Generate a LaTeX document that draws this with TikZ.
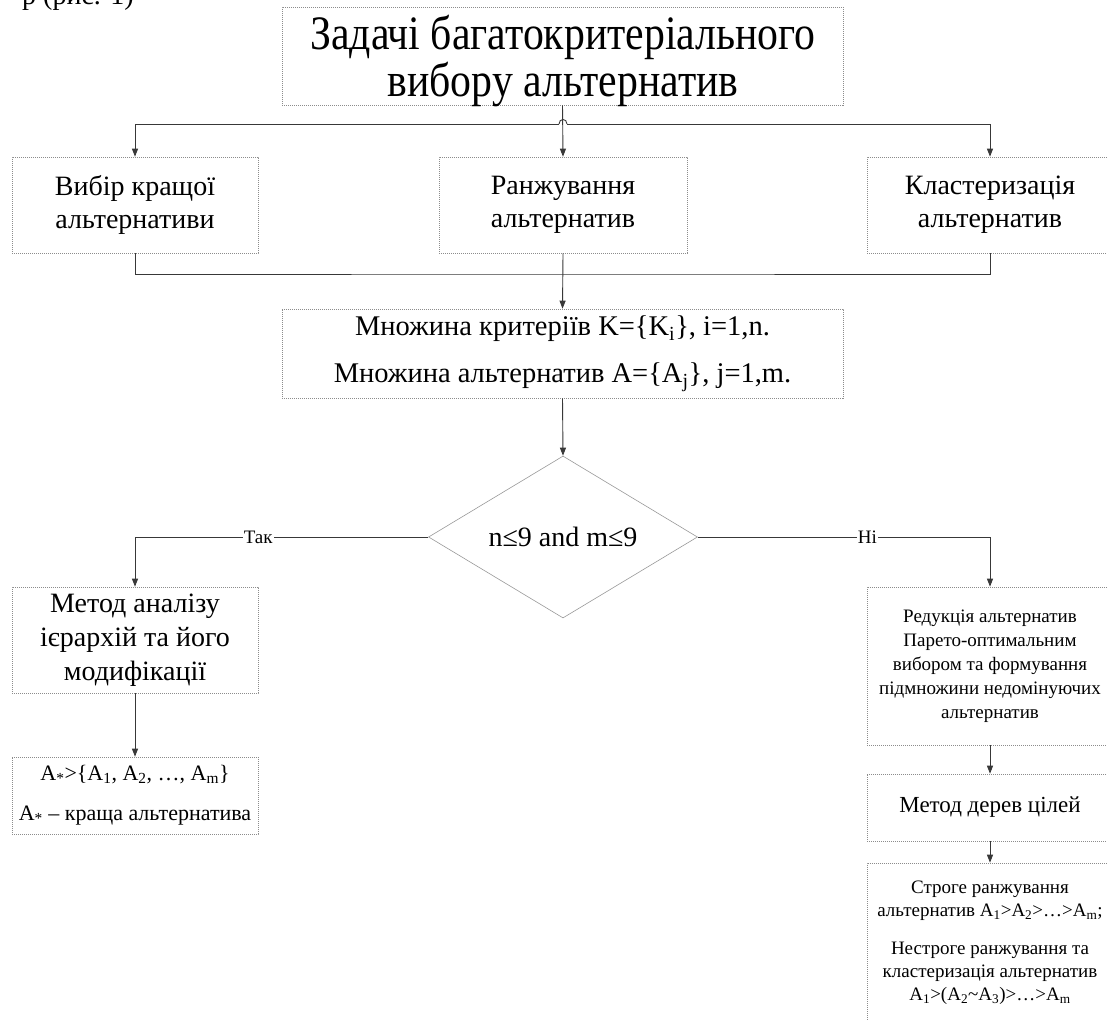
\documentclass[tikz,border=0pt]{standalone}
\usepackage{fontspec}
\setmainfont{Liberation Serif}
\usetikzlibrary{shapes.geometric,arrows.meta,calc}
\begin{document}
\begin{tikzpicture}[x=1pt,y=-1pt,
  box/.style={draw=black!45, line width=0.6pt, dash pattern=on 1.2pt off 0.8pt,
              fill=white, inner sep=2pt, align=center, anchor=center},
  conn/.style={draw=black!78, line width=0.9pt},
  arr/.style={conn, -{Triangle[length=8pt,width=6pt]}},
  lbl/.style={fill=white, inner sep=1pt, font=\fontsize{19}{22}\selectfont},
  f28/.style={font=\fontsize{28}{33}\selectfont},
]
\clip (0,0) rectangle (1107,1020);
\fill[white] (0,0) rectangle (1107,1020);

% end of the running text above the figure
\node[anchor=base west, inner sep=0pt, f28] (frag) at (22,4) {р (рис. 1)};

% top level
\node[box, minimum width=561, minimum height=98] (top) at (562.5,56) {};
\node[inner sep=0pt] (toptext) at (563,62)
  {\scalebox{0.87}[1]{\fontsize{48}{43}\selectfont
   \begin{tabular}{@{}c@{}}Задачі багатокритеріального\\вибору альтернатив\end{tabular}}};

% three kinds of task
\node[box, f28, minimum width=246, minimum height=96] (l1) at (135,205) {Вибір кращої\\альтернативи};
\node[box, f28, minimum width=248, minimum height=96] (m1) at (563,205) {Ранжування\\альтернатив};
\node[box, f28, minimum width=246, minimum height=96] (r1) at (990,205) {Кластеризація\\альтернатив};

% input sets
\node[box, font=\fontsize{28.5}{47}\selectfont, minimum width=561, minimum height=89] (set) at (562.5,353.5)
  {Множина критеріїв K=\{K\textsubscript{i}\}, i=1,n.\\Множина альтернатив A=\{A\textsubscript{j}\}, j=1,m.};

% decision
\node[diamond, draw=black!40, line width=0.6pt, aspect=1.66, inner sep=0pt,
      minimum width=269, minimum height=162, f28] (dia) at (563,537) {n≤9 and m≤9};

% left branch
\node[box, font=\fontsize{28}{34}\selectfont, minimum width=246, minimum height=106] (ahp) at (135,640)
  {Метод аналізу\\ієрархій та його\\модифікації};
\node[box, font=\fontsize{22}{40}\selectfont, minimum width=246, minimum height=77] (res) at (135,795.5)
  {A\textsubscript{*}>\{A\textsubscript{1}, A\textsubscript{2}, …, A\textsubscript{m}\}\\A\textsubscript{*} – краща альтернатива};

% right branch
\node[box, font=\fontsize{19}{24}\selectfont, minimum width=246, minimum height=158] (red) at (990,666)
  {Редукція альтернатив\\Парето-оптимальним\\вибором та формування\\підмножини недомінуючих\\альтернатив};
\node[box, font=\fontsize{23}{27}\selectfont, minimum width=246, minimum height=67] (tree) at (990,807.5)
  {Метод дерев цілей};
\node[box, font=\fontsize{19}{23}\selectfont, minimum width=246, minimum height=160] (rank) at (990,943)
  {Строге ранжування\\альтернатив A\textsubscript{1}>A\textsubscript{2}>…>A\textsubscript{m};\\[15pt]
   Нестроге ранжування та\\кластеризація альтернатив\\A\textsubscript{1}>(A\textsubscript{2}\textasciitilde A\textsubscript{3})>…>A\textsubscript{m}};

% upper bus with a line jump over the central connector
\coordinate (hop) at (563,124);
\draw[arr] (top.south) -- (m1.north);
\draw[arr] ($(hop)+(-4,0)$) -| (l1.north);
\draw[arr] ($(hop)+(4,0)$) -| (r1.north);
\draw[conn] ($(hop)+(-4,0)$) .. controls ($(hop)+(-4,-6)$) and ($(hop)+(4,-6)$) .. ($(hop)+(4,0)$);

% lower bus
\coordinate (bus) at (563,274);
\draw[conn] (l1.south) |- (bus) -| (r1.south);
\draw[arr] (m1.south) -- (set.north);
\draw[arr] (set.south) -- (dia.north);

% branches
\draw[arr] (dia.west) -| node[lbl, pos=0.29] (yes) {Так} (ahp.north);
\draw[arr] (dia.east) -| node[lbl, pos=0.29] (no) {Ні} (red.north);
\draw[arr] (ahp.south) -- (res.north);
\draw[arr] (red.south) -- (tree.north);
\draw[arr] (tree.south) -- (rank.north);
\end{tikzpicture}
\end{document}
